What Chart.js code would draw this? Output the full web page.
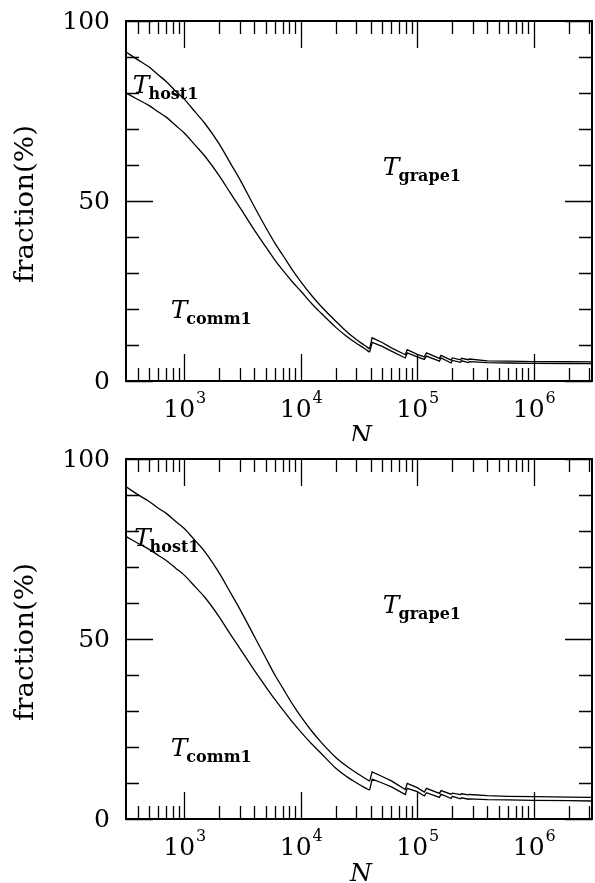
<!DOCTYPE html>
<html>
<head>
<meta charset="utf-8">
<script src="https://cdn.jsdelivr.net/npm/chart.js@4.4.0/dist/chart.umd.min.js"></script>
<style>
  body { margin: 0; background: #fff; }
  canvas { position: absolute; left: 0; }
</style>
</head>
<body>
<canvas id="topChart" width="595" height="441" style="top:0px"></canvas>
<canvas id="bottomChart" width="595" height="442" style="top:441px"></canvas>
<script>
// particle number N
var nValues = [316, 400, 500, 600, 700, 850, 1000, 1250, 1500, 2000, 2500, 3000, 4000, 5000, 6000, 7000,
    8500, 10000, 12500, 15000, 20000, 25000, 30000, 35000, 39000, 41000, 50000, 60000, 79000, 82000,
    100000, 115000, 120000, 155000, 160000, 195000, 200000, 235000, 240000, 275000, 280000,
    400000, 600000, 1000000, 2000000, 3162278];
// index of the first saw-tooth drop (N = 39000); the part before it is smooth
var smoothEnd = 24;

// upper panel: comm+host (upper line) and comm (lower line), in %
var topUpper = [91.4, 89.2, 87.2, 85.0, 83.2, 80.4, 78.3, 74.6, 71.6, 65.8, 60.4, 56.0, 48.4, 42.7, 38.3, 35.0,
    30.8, 27.6, 23.6, 20.7, 16.6, 13.6, 11.5, 10.0, 8.9, 12.0, 10.7, 9.2, 7.3, 8.7,
    7.4, 6.7, 7.8, 6.3, 7.1, 5.8, 6.4, 5.9, 6.3, 5.9, 6.1,
    5.6, 5.5, 5.4, 5.35, 5.3];
var topLower = [80.0, 78.2, 76.5, 74.7, 73.3, 70.9, 68.9, 65.4, 62.5, 57.0, 52.1, 48.2, 41.9, 37.3, 33.6, 30.8,
    27.5, 25.0, 21.4, 18.8, 14.9, 12.3, 10.5, 9.1, 8.0, 10.7, 9.6, 8.3, 6.4, 7.8,
    6.7, 6.0, 6.9, 5.5, 6.4, 5.0, 5.7, 5.2, 5.6, 5.1, 5.4,
    5.1, 5.0, 4.9, 4.85, 4.8];

// lower panel
var bottomUpper = [92.3, 90.1, 88.2, 86.3, 84.9, 82.6, 80.7, 77.2, 74.3, 68.3, 62.8, 58.3, 50.7, 44.8, 40.0, 36.4,
    31.9, 28.5, 24.3, 21.3, 17.1, 14.6, 12.85, 11.45, 10.5, 13.1, 11.8, 10.6, 8.2, 9.9,
    8.7, 7.5, 8.5, 7.1, 7.9, 6.9, 7.2, 6.8, 7.0, 6.7, 6.8,
    6.5, 6.3, 6.2, 6.05, 6.0];
var bottomLower = [78.5, 76.6, 74.9, 73.2, 71.8, 69.6, 67.75, 64.4, 61.6, 56.1, 51.2, 47.4, 41.3, 36.8, 33.2, 30.4,
    26.9, 24.2, 20.75, 18.2, 14.1, 11.7, 10.05, 8.8, 8.0, 11.1, 10.0, 8.9, 6.8, 8.5,
    7.6, 6.4, 7.3, 6.0, 6.9, 5.7, 6.3, 5.6, 5.9, 5.5, 5.6,
    5.4, 5.3, 5.2, 5.1, 5.0];

var yMajorTicks = [0, 50, 100];
var yMinorTicks = [10, 20, 30, 40, 60, 70, 80, 90];
var xMajorTicks = [1e3, 1e4, 1e5, 1e6];
var xMajorExp = ['3', '4', '5', '6'];
var xDecades = [1e2, 1e3, 1e4, 1e5, 1e6];
var xMinorSteps = [2, 3, 4, 5, 6, 7, 8, 9];

var serif = '"DejaVu Serif", serif';

// region labels: [sub text, N, value at baseline]
var topNotes = [['host1', 362, 80.0], ['grape1', 50600, 57.2], ['comm1', 764, 17.6]];
var bottomNotes = [['host1', 370, 75.8], ['grape1', 50600, 57.2], ['comm1', 764, 17.5]];

function framePlugin(notes) {
    return {
        id: 'frame',
        afterDraw: function (chart) {
            var ctx = chart.ctx;
            var a = chart.chartArea;
            var xs = chart.scales.x, ys = chart.scales.y;
            ctx.save();
            ctx.strokeStyle = '#000';
            ctx.fillStyle = '#000';

            // ticks
            ctx.lineWidth = 1.3;
            ctx.beginPath();
            yMajorTicks.concat(yMinorTicks).forEach(function (v) {
                var len = yMajorTicks.indexOf(v) >= 0 ? 27 : 13;
                var py = Math.round(ys.getPixelForValue(v)) + 0.5;
                ctx.moveTo(a.left, py); ctx.lineTo(a.left + len, py);
                ctx.moveTo(a.right, py); ctx.lineTo(a.right - len, py);
            });
            var xt = [];
            xDecades.forEach(function (d) {
                xMinorSteps.forEach(function (s) { xt.push([d * s, 13]); });
            });
            xMajorTicks.forEach(function (v) { xt.push([v, 27]); });
            xt.forEach(function (t) {
                if (t[0] <= xs.min || t[0] >= xs.max) return;
                var px = Math.round(xs.getPixelForValue(t[0])) + 0.5;
                ctx.moveTo(px, a.bottom); ctx.lineTo(px, a.bottom - t[1]);
                ctx.moveTo(px, a.top); ctx.lineTo(px, a.top + t[1]);
            });
            ctx.stroke();

            // frame
            ctx.lineWidth = 2;
            ctx.strokeRect(a.left, a.top, a.right - a.left, a.bottom - a.top);

            // y tick labels
            ctx.font = '25px ' + serif;
            ctx.textAlign = 'right';
            ctx.textBaseline = 'middle';
            yMajorTicks.forEach(function (v) {
                ctx.fillText(String(v), a.left - 16, ys.getPixelForValue(v) + 1);
            });

            // x tick labels 10^n
            ctx.textBaseline = 'alphabetic';
            ctx.textAlign = 'left';
            xMajorTicks.forEach(function (v, i) {
                ctx.font = '25px ' + serif;
                var w1 = ctx.measureText('10').width;
                ctx.font = '16px ' + serif;
                var w2 = ctx.measureText(xMajorExp[i]).width;
                var x0 = xs.getPixelForValue(v) - (w1 + w2) / 2;
                ctx.font = '25px ' + serif;
                ctx.fillText('10', x0, a.bottom + 36);
                ctx.font = '16px ' + serif;
                ctx.fillText(xMajorExp[i], x0 + w1 + 1, a.bottom + 22);
            });

            // axis titles
            ctx.font = 'italic 25px ' + serif;
            ctx.textAlign = 'center';
            ctx.fillText('N', (a.left + a.right) / 2 + 2, a.bottom + 62);

            ctx.save();
            ctx.font = '26px ' + serif;
            var tw = ctx.measureText('fraction(%)').width;
            ctx.translate(33, (a.top + a.bottom) / 2 + 3);
            ctx.rotate(-Math.PI / 2);
            ctx.scale(158 / tw, 1);
            ctx.fillText('fraction(%)', 0, 0);
            ctx.restore();

            // region labels
            ctx.textAlign = 'left';
            notes.forEach(function (n) {
                var px = xs.getPixelForValue(n[1]);
                var py = ys.getPixelForValue(n[2]);
                ctx.font = 'italic 25px ' + serif;
                ctx.fillText('T', px, py);
                var tw2 = ctx.measureText('T').width;
                ctx.font = 'bold 16px ' + serif;
                ctx.fillText(n[0], px + tw2 - 1, py + 6);
            });
            ctx.restore();
        }
    };
}

function makeChart(id, upper, lower, pad, notes) {
    var ctx = document.getElementById(id).getContext('2d');
    // smooth part drawn as a monotone curve, saw-tooth part as straight segments
    var line = function (vals, from, to, smooth) {
        var pts = [];
        for (var i = from; i <= to; i++) pts.push({ x: nValues[i], y: vals[i] });
        return {
            data: pts,
            borderColor: '#000',
            borderWidth: 1.3,
            pointRadius: 0,
            fill: false,
            tension: smooth ? 0.4 : 0,
            cubicInterpolationMode: smooth ? 'monotone' : 'default'
        };
    };
    var last = nValues.length - 1;
    return new Chart(ctx, {
        type: 'line',
        data: {
            datasets: [
                line(upper, 0, smoothEnd, true), line(upper, smoothEnd, last, false),
                line(lower, 0, smoothEnd, true), line(lower, smoothEnd, last, false)
            ]
        },
        options: {
            responsive: false,
            animation: false,
            layout: { padding: pad },
            plugins: { legend: { display: false }, tooltip: { enabled: false } },
            scales: {
                x: { type: 'logarithmic', min: 316.2278, max: 3162278, display: false },
                y: { type: 'linear', min: 0, max: 100, display: false }
            }
        },
        plugins: [framePlugin(notes)]
    });
}

window.onload = function () {
    makeChart('topChart', topUpper, topLower, { left: 126, right: 3, top: 21, bottom: 60 }, topNotes);
    makeChart('bottomChart', bottomUpper, bottomLower, { left: 126, right: 3, top: 18, bottom: 64 }, bottomNotes);
};
</script>
</body>
</html>
